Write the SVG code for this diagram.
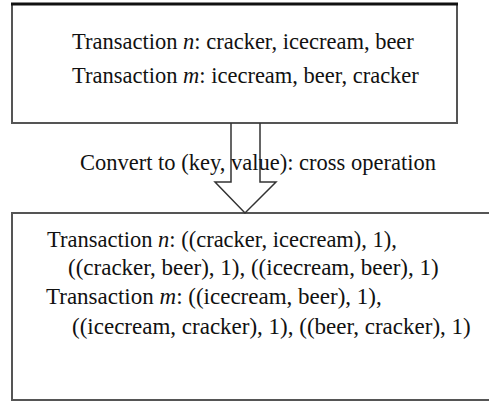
<svg xmlns="http://www.w3.org/2000/svg" width="489" height="402" viewBox="0 0 489 402">
<style>
.box{fill:#fff;stroke:#555;stroke-width:2}
.t{font-family:"Liberation Serif","Times New Roman",serif;font-size:23px;fill:#111}
.s{font-size:22.5px}
.i{font-style:italic}
.arrow{fill:none;stroke:#333;stroke-width:1.5}
</style>
<rect width="489" height="402" fill="#fff"/>
<g id="node-top">
<rect class="box" x="12" y="4" width="445" height="119"/>
<line x1="11" y1="4" x2="458" y2="4" stroke="#111" stroke-width="3"/>
<text class="t s" x="72" y="49">Transaction <tspan class="i">n</tspan>: cracker, icecream, beer</text>
<text class="t s" x="72" y="83">Transaction <tspan class="i">m</tspan>: icecream, beer, cracker</text>
</g>
<g id="node-bottom">
<rect class="box" x="12" y="213" width="490" height="187"/>
<text class="t s" x="47" y="247">Transaction <tspan class="i">n</tspan>: ((cracker, icecream), 1),</text>
<text class="t" x="68" y="275">((cracker, beer), 1), ((icecream, beer), 1)</text>
<text class="t" x="46" y="304">Transaction <tspan class="i">m</tspan>: ((icecream, beer), 1),</text>
<text class="t" x="72" y="334">((icecream, cracker), 1), ((beer, cracker), 1)</text>
</g>
<g id="connectors">
<path class="arrow" d="M231,123 V182 H215 L245,213 L276,182 H260 V123"/>
</g>
<g id="label">
<text class="t s" x="80" y="170">Convert to (key, value): cross operation</text>
</g>
</svg>
